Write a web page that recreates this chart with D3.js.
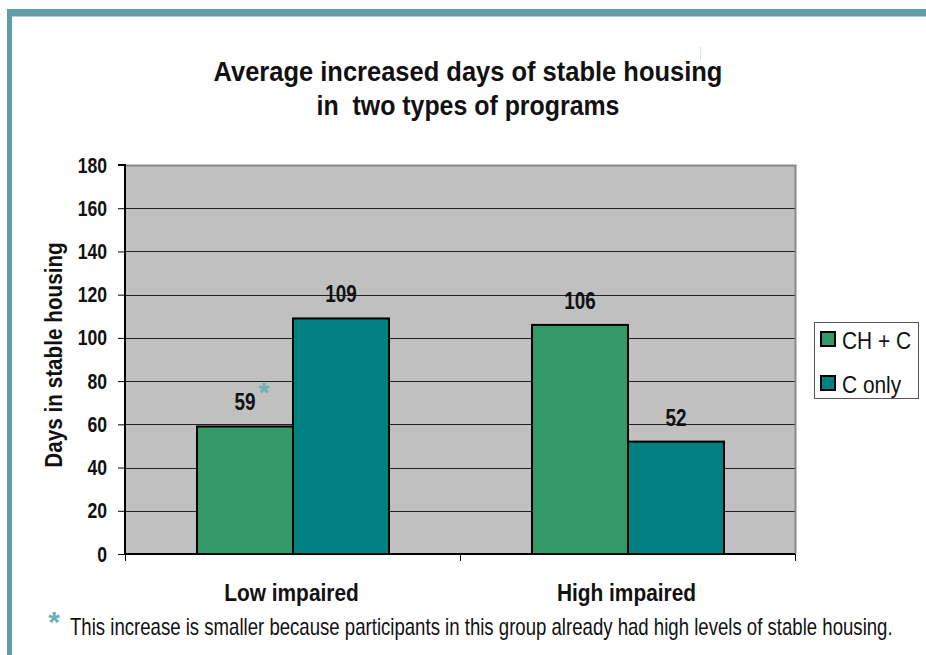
<!DOCTYPE html>
<html>
<head>
<meta charset="utf-8">
<script src="https://cdn.jsdelivr.net/npm/d3@7"></script>
<style>
  body { margin: 0; background: #fff; }
  svg text { font-family: "Liberation Sans Narrow", "Arial Narrow", "Liberation Sans", Arial, sans-serif; fill: #111; }
</style>
</head>
<body>
<svg id="chart" width="926" height="655"></svg>
<script>
const categories = ["Low impaired", "High impaired"];
const seriesNames = ["CH + C", "C only"];
const chValues = [59, 106];
const cOnlyValues = [109, 52];
const yTicks = [0, 20, 40, 60, 80, 100, 120, 140, 160, 180];
const colors = ["#339966", "#008080"];

const svg = d3.select("#chart");
const W = 926, H = 655;
const plot = {left: 125, right: 795, top: 165, bottom: 554};

// squeeze text to look like a narrow face
function narrow(sel, k) {
  sel.each(function () {
    const len = this.getComputedTextLength();
    d3.select(this).attr("textLength", len * k).attr("lengthAdjust", "spacingAndGlyphs");
  });
}
// same idea but with a transform, so the box shrinks too
function squeeze(sel, k) {
  sel.each(function () {
    const t = d3.select(this);
    const x = +t.attr("x") || 0;
    t.attr("transform", `translate(${x * (1 - k)},0) scale(${k},1)`);
  });
}

// frame
svg.append("rect").attr("x", 7).attr("y", 9).attr("width", W - 7).attr("height", 7.5).attr("fill", "#5F9EA6");
svg.append("rect").attr("x", 7).attr("y", 9).attr("width", 5).attr("height", H - 9).attr("fill", "#5F9EA6");
svg.append("line").attr("x1", 700.5).attr("x2", 700.5).attr("y1", 47).attr("y2", 60)
  .attr("stroke", "#ddd").attr("stroke-width", 1);

// title
const t1 = svg.append("text").attr("x", 468).attr("y", 81).attr("text-anchor", "middle")
  .attr("font-size", 27).attr("font-weight", "bold")
  .text("Average increased days of stable housing");
squeeze(t1, 509 / t1.node().getComputedTextLength());
const t2 = svg.append("text").attr("x", 468).attr("y", 115).attr("text-anchor", "middle")
  .attr("font-size", 27).attr("font-weight", "bold")
  .attr("xml:space", "preserve")
  .text("in  two types of programs");
squeeze(t2, 303 / t2.node().getComputedTextLength());

const x0 = d3.scaleBand().domain(categories).range([plot.left, plot.right]).paddingInner(0).paddingOuter(0);
const x1 = d3.scaleBand().domain(seriesNames).range([72, x0.bandwidth() - 71]);
const y = d3.scaleLinear().domain([0, 180]).range([plot.bottom, plot.top]);

// plot background
svg.append("rect").attr("x", plot.left).attr("y", plot.top)
  .attr("width", plot.right - plot.left).attr("height", plot.bottom - plot.top)
  .attr("fill", "#C0C0C0");

// gridlines
svg.append("g").selectAll("line").data(yTicks.filter(d => d > 0 && d < 180)).join("line")
  .attr("x1", plot.left).attr("x2", plot.right)
  .attr("y1", d => Math.round(y(d)) + 0.5).attr("y2", d => Math.round(y(d)) + 0.5)
  .attr("stroke", "#222").attr("stroke-width", 1);

// plot border (top/right)
svg.append("path")
  .attr("d", `M${plot.left},${plot.top + 0.5}H${plot.right + 0.5}V${plot.bottom}`)
  .attr("fill", "none").attr("stroke", "#888").attr("stroke-width", 2);

// bars
const rows = categories.map((c, i) => ({cat: c, vals: [chValues[i], cOnlyValues[i]]}));
const groups = svg.append("g").selectAll("g").data(rows).join("g")
  .attr("transform", d => `translate(${x0(d.cat)},0)`);
groups.selectAll("rect").data(d => d.vals.map((v, j) => ({name: seriesNames[j], v, j}))).join("rect")
  .attr("x", d => x1(d.name)).attr("y", d => y(d.v))
  .attr("width", x1.bandwidth()).attr("height", d => y(0) - y(d.v))
  .attr("fill", d => colors[d.j]).attr("stroke", "#000").attr("stroke-width", 2);
const valLabels = groups.selectAll("text.val").data(d => d.vals.map((v, j) => ({name: seriesNames[j], v, j}))).join("text")
  .attr("class", "val")
  .attr("x", d => x1(d.name) + x1.bandwidth() / 2).attr("y", d => y(d.v) - 16)
  .attr("text-anchor", "middle").attr("font-size", 23).attr("font-weight", "bold")
  .text(d => d.v);
narrow(valLabels, 0.82);

// asterisk next to 59
svg.append("text").attr("x", x0(categories[0]) + x1(seriesNames[0]) + x1.bandwidth() / 2 + 19)
  .attr("y", y(chValues[0]) - 24).attr("text-anchor", "middle")
  .attr("font-size", 28).attr("font-weight", "bold").style("fill", "#6AAFB8").text("*");

// y axis
const yAxis = d3.axisLeft(y).tickValues(yTicks).tickSize(7).tickPadding(11);
const gy = svg.append("g").attr("transform", `translate(${plot.left},0)`).call(yAxis);
gy.attr("font-family", null);
gy.select(".domain").attr("stroke", "#000").attr("stroke-width", 2).attr("d", `M-7,${plot.top}H0V${plot.bottom}`);
gy.selectAll(".tick line").attr("stroke", "#000");
const yLabels = gy.selectAll(".tick text").attr("font-size", 22).attr("font-weight", "bold").style("fill", "#111");
narrow(yLabels, 0.8);

// x axis
const gx = svg.append("g").attr("transform", `translate(0,${plot.bottom})`);
gx.append("line").attr("x1", plot.left).attr("x2", plot.right).attr("y1", 0).attr("y2", 0)
  .attr("stroke", "#000").attr("stroke-width", 2);
gx.selectAll("line.tk").data([plot.left, x0(categories[1]), plot.right]).join("line")
  .attr("class", "tk").attr("x1", d => d + 0.5).attr("x2", d => d + 0.5).attr("y1", 0).attr("y2", 7)
  .attr("stroke", "#000");
const xLabels = gx.selectAll("text").data(categories).join("text")
  .attr("x", d => x0(d) + x0.bandwidth() / 2 - 1).attr("y", 47)
  .attr("text-anchor", "middle").attr("font-size", 24).attr("font-weight", "bold")
  .text(d => d);
narrow(xLabels, 0.87);

// y axis title
const yTitle = svg.append("text").attr("transform", "translate(62,355) rotate(-90)")
  .attr("text-anchor", "middle").attr("font-size", 23).attr("font-weight", "bold")
  .text("Days in stable housing");
narrow(yTitle, 0.9);

// legend
const lg = svg.append("g").attr("transform", "translate(814,322)");
lg.append("rect").attr("x", 0.5).attr("y", 0.5).attr("width", 104).attr("height", 76)
  .attr("fill", "#fff").attr("stroke", "#555").attr("stroke-width", 1);
seriesNames.forEach((s, i) => {
  lg.append("rect").attr("x", 7).attr("y", 10 + i * 44).attr("width", 14).attr("height", 14)
    .attr("fill", colors[i]).attr("stroke", "#000").attr("stroke-width", 2);
  const t = lg.append("text").attr("x", 28).attr("y", 27 + i * 44).attr("font-size", 24).text(s);
  narrow(t, 0.87);
});

// footnote
svg.append("text").attr("x", 54).attr("y", 632).attr("text-anchor", "middle")
  .attr("font-size", 30).attr("font-weight", "bold").style("fill", "#6AAFB8").text("*");
const foot = svg.append("text").attr("x", 70).attr("y", 635).attr("font-size", 23)
  .text("This increase is smaller because participants in this group already had high levels of stable housing.");
squeeze(foot, 823 / foot.node().getComputedTextLength());
</script>
</body>
</html>
